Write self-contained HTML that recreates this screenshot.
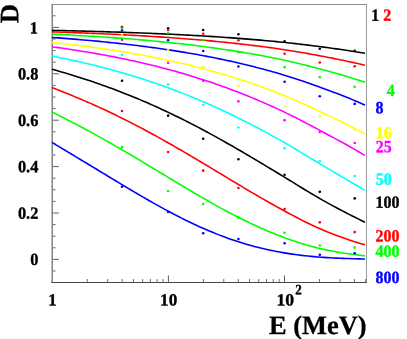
<!DOCTYPE html>
<html><head><meta charset="utf-8"><title>D vs E</title>
<style>html,body{margin:0;padding:0;background:#fff;}body{width:407px;height:339px;overflow:hidden;font-family:"Liberation Serif",serif;}svg{display:block;will-change:transform;}</style>
</head><body>
<svg width="407" height="339" viewBox="0 0 407 339">
<rect x="0" y="0" width="407" height="339" fill="#ffffff"/>
<g fill="none" stroke-width="1">
<line x1="51.5" y1="4" x2="51.5" y2="283" stroke="#c0c0c0"/>
<line x1="52.5" y1="4" x2="52.5" y2="283" stroke="#858585"/>
<line x1="51.3" y1="4.5" x2="367" y2="4.5" stroke="#8c8c8c"/>
<line x1="366.5" y1="4" x2="366.5" y2="283" stroke="#9a9a9a"/>
<line x1="51.3" y1="282.5" x2="367" y2="282.5" stroke="#484848"/>
<line x1="53" y1="271.00" x2="55.60" y2="271.00" stroke="#686868"/>
<line x1="53" y1="259.40" x2="58.90" y2="259.40" stroke="#626262"/>
<line x1="53" y1="247.80" x2="55.60" y2="247.80" stroke="#686868"/>
<line x1="53" y1="236.20" x2="55.60" y2="236.20" stroke="#686868"/>
<line x1="53" y1="224.60" x2="55.60" y2="224.60" stroke="#686868"/>
<line x1="53" y1="213.00" x2="58.90" y2="213.00" stroke="#626262"/>
<line x1="53" y1="201.40" x2="55.60" y2="201.40" stroke="#686868"/>
<line x1="53" y1="189.80" x2="55.60" y2="189.80" stroke="#686868"/>
<line x1="53" y1="178.20" x2="55.60" y2="178.20" stroke="#686868"/>
<line x1="53" y1="166.60" x2="58.90" y2="166.60" stroke="#626262"/>
<line x1="53" y1="155.00" x2="55.60" y2="155.00" stroke="#686868"/>
<line x1="53" y1="143.40" x2="55.60" y2="143.40" stroke="#686868"/>
<line x1="53" y1="131.80" x2="55.60" y2="131.80" stroke="#686868"/>
<line x1="53" y1="120.20" x2="58.90" y2="120.20" stroke="#626262"/>
<line x1="53" y1="108.60" x2="55.60" y2="108.60" stroke="#686868"/>
<line x1="53" y1="97.00" x2="55.60" y2="97.00" stroke="#686868"/>
<line x1="53" y1="85.40" x2="55.60" y2="85.40" stroke="#686868"/>
<line x1="53" y1="73.80" x2="58.90" y2="73.80" stroke="#626262"/>
<line x1="53" y1="62.20" x2="55.60" y2="62.20" stroke="#686868"/>
<line x1="53" y1="50.60" x2="55.60" y2="50.60" stroke="#686868"/>
<line x1="53" y1="39.00" x2="55.60" y2="39.00" stroke="#686868"/>
<line x1="53" y1="27.40" x2="58.90" y2="27.40" stroke="#626262"/>
<line x1="53" y1="15.80" x2="55.60" y2="15.80" stroke="#686868"/>
<line x1="87.25" y1="282" x2="87.25" y2="279.00" stroke="#707070"/>
<line x1="107.69" y1="282" x2="107.69" y2="279.00" stroke="#707070"/>
<line x1="122.20" y1="282" x2="122.20" y2="279.00" stroke="#707070"/>
<line x1="133.45" y1="282" x2="133.45" y2="279.00" stroke="#707070"/>
<line x1="142.64" y1="282" x2="142.64" y2="279.00" stroke="#707070"/>
<line x1="150.42" y1="282" x2="150.42" y2="279.00" stroke="#707070"/>
<line x1="157.15" y1="282" x2="157.15" y2="279.00" stroke="#707070"/>
<line x1="163.09" y1="282" x2="163.09" y2="279.00" stroke="#707070"/>
<line x1="168.40" y1="282" x2="168.40" y2="275.40" stroke="#626262"/>
<line x1="203.35" y1="282" x2="203.35" y2="279.00" stroke="#707070"/>
<line x1="223.79" y1="282" x2="223.79" y2="279.00" stroke="#707070"/>
<line x1="238.30" y1="282" x2="238.30" y2="279.00" stroke="#707070"/>
<line x1="249.55" y1="282" x2="249.55" y2="279.00" stroke="#707070"/>
<line x1="258.74" y1="282" x2="258.74" y2="279.00" stroke="#707070"/>
<line x1="266.52" y1="282" x2="266.52" y2="279.00" stroke="#707070"/>
<line x1="273.25" y1="282" x2="273.25" y2="279.00" stroke="#707070"/>
<line x1="279.19" y1="282" x2="279.19" y2="279.00" stroke="#707070"/>
<line x1="284.50" y1="282" x2="284.50" y2="275.40" stroke="#626262"/>
<line x1="319.45" y1="282" x2="319.45" y2="279.00" stroke="#707070"/>
<line x1="339.89" y1="282" x2="339.89" y2="279.00" stroke="#707070"/>
<line x1="354.40" y1="282" x2="354.40" y2="279.00" stroke="#707070"/>
<line x1="365.65" y1="282" x2="365.65" y2="279.00" stroke="#707070"/>
</g>
<polyline points="51.9,30.36 55.1,30.43 58.2,30.50 61.4,30.57 64.6,30.64 67.7,30.72 70.9,30.79 74.0,30.87 77.2,30.95 80.4,31.03 83.5,31.11 86.7,31.20 89.9,31.28 93.0,31.37 96.2,31.46 99.3,31.55 102.5,31.65 105.7,31.74 108.8,31.84 112.0,31.94 115.2,32.04 118.3,32.15 121.5,32.25 124.6,32.36 127.8,32.47 131.0,32.59 134.1,32.70 137.3,32.82 140.5,32.94 143.6,33.07 146.8,33.19 149.9,33.32 153.1,33.45 156.3,33.59 159.4,33.73 162.6,33.87 165.8,34.01 168.9,34.16 172.1,34.31 175.2,34.46 178.4,34.62 181.6,34.78 184.7,34.95 187.9,35.11 191.1,35.29 194.2,35.46 197.4,35.64 200.5,35.82 203.7,36.01 206.9,36.20 210.0,36.40 213.2,36.59 216.4,36.80 219.5,37.01 222.7,37.22 225.8,37.44 229.0,37.66 232.2,37.88 235.3,38.12 238.5,38.35 241.7,38.59 244.8,38.84 248.0,39.09 251.1,39.35 254.3,39.61 257.5,39.88 260.6,40.16 263.8,40.44 267.0,40.72 270.1,41.01 273.3,41.31 276.4,41.62 279.6,41.93 282.8,42.25 285.9,42.58 289.1,42.92 292.3,43.26 295.4,43.62 298.6,43.98 301.7,44.35 304.9,44.73 308.1,45.12 311.2,45.51 314.4,45.91 317.6,46.32 320.7,46.73 323.9,47.14 327.0,47.56 330.2,47.98 333.4,48.41 336.5,48.85 339.7,49.30 342.9,49.76 346.0,50.22 349.2,50.70 352.3,51.19 355.5,51.70 358.7,52.21 361.8,52.74 365.0,53.27" fill="none" stroke="#000000" stroke-width="1.58" stroke-linecap="butt" stroke-linejoin="round"/>
<circle cx="122.00" cy="27.05" r="1.3" fill="#000000"/>
<circle cx="168.10" cy="28.25" r="1.3" fill="#000000"/>
<circle cx="203.20" cy="30.05" r="1.3" fill="#000000"/>
<circle cx="238.40" cy="34.25" r="1.3" fill="#000000"/>
<circle cx="284.60" cy="41.25" r="1.3" fill="#000000"/>
<circle cx="319.80" cy="48.75" r="1.3" fill="#000000"/>
<circle cx="354.70" cy="50.80" r="1.3" fill="#000000"/>
<polyline points="51.9,31.85 55.1,31.96 58.2,32.06 61.4,32.17 64.6,32.28 67.7,32.39 70.9,32.51 74.0,32.62 77.2,32.74 80.4,32.86 83.5,32.99 86.7,33.11 89.9,33.24 93.0,33.37 96.2,33.51 99.3,33.65 102.5,33.79 105.7,33.93 108.8,34.08 112.0,34.22 115.2,34.38 118.3,34.53 121.5,34.69 124.6,34.85 127.8,35.02 131.0,35.19 134.1,35.36 137.3,35.54 140.5,35.72 143.6,35.91 146.8,36.09 149.9,36.29 153.1,36.48 156.3,36.69 159.4,36.89 162.6,37.10 165.8,37.32 168.9,37.54 172.1,37.76 175.2,37.99 178.4,38.22 181.6,38.46 184.7,38.70 187.9,38.95 191.1,39.21 194.2,39.47 197.4,39.73 200.5,40.00 203.7,40.28 206.9,40.56 210.0,40.85 213.2,41.15 216.4,41.45 219.5,41.76 222.7,42.07 225.8,42.39 229.0,42.72 232.2,43.05 235.3,43.39 238.5,43.74 241.7,44.10 244.8,44.46 248.0,44.83 251.1,45.21 254.3,45.60 257.5,45.99 260.6,46.39 263.8,46.80 267.0,47.22 270.1,47.65 273.3,48.09 276.4,48.54 279.6,49.00 282.8,49.46 285.9,49.94 289.1,50.43 292.3,50.94 295.4,51.45 298.6,51.98 301.7,52.52 304.9,53.07 308.1,53.64 311.2,54.21 314.4,54.79 317.6,55.37 320.7,55.96 323.9,56.56 327.0,57.17 330.2,57.78 333.4,58.40 336.5,59.03 339.7,59.67 342.9,60.32 346.0,60.99 349.2,61.68 352.3,62.38 355.5,63.10 358.7,63.83 361.8,64.58 365.0,65.35" fill="none" stroke="#ff0000" stroke-width="1.58" stroke-linecap="butt" stroke-linejoin="round"/>
<circle cx="122.00" cy="27.55" r="1.3" fill="#ff0000"/>
<circle cx="168.10" cy="30.05" r="1.3" fill="#ff0000"/>
<circle cx="203.20" cy="33.75" r="1.3" fill="#ff0000"/>
<circle cx="238.40" cy="40.25" r="1.3" fill="#ff0000"/>
<circle cx="284.60" cy="53.75" r="1.3" fill="#ff0000"/>
<circle cx="319.80" cy="62.55" r="1.3" fill="#ff0000"/>
<circle cx="354.70" cy="66.30" r="1.3" fill="#ff0000"/>
<polyline points="51.9,34.09 55.1,34.25 58.2,34.41 61.4,34.57 64.6,34.73 67.7,34.90 70.9,35.07 74.0,35.25 77.2,35.42 80.4,35.60 83.5,35.79 86.7,35.98 89.9,36.17 93.0,36.36 96.2,36.56 99.3,36.77 102.5,36.98 105.7,37.19 108.8,37.41 112.0,37.63 115.2,37.86 118.3,38.09 121.5,38.32 124.6,38.57 127.8,38.81 131.0,39.06 134.1,39.32 137.3,39.58 140.5,39.85 143.6,40.13 146.8,40.41 149.9,40.69 153.1,40.98 156.3,41.28 159.4,41.59 162.6,41.90 165.8,42.21 168.9,42.54 172.1,42.87 175.2,43.21 178.4,43.55 181.6,43.90 184.7,44.26 187.9,44.63 191.1,45.00 194.2,45.38 197.4,45.77 200.5,46.17 203.7,46.58 206.9,46.99 210.0,47.42 213.2,47.85 216.4,48.29 219.5,48.74 222.7,49.20 225.8,49.67 229.0,50.14 232.2,50.63 235.3,51.13 238.5,51.63 241.7,52.15 244.8,52.68 248.0,53.22 251.1,53.77 254.3,54.33 257.5,54.90 260.6,55.48 263.8,56.08 267.0,56.68 270.1,57.30 273.3,57.93 276.4,58.57 279.6,59.23 282.8,59.90 285.9,60.59 289.1,61.29 292.3,62.01 295.4,62.75 298.6,63.51 301.7,64.28 304.9,65.06 308.1,65.86 311.2,66.67 314.4,67.49 317.6,68.32 320.7,69.16 323.9,70.00 327.0,70.86 330.2,71.72 333.4,72.59 336.5,73.47 339.7,74.37 342.9,75.29 346.0,76.22 349.2,77.18 352.3,78.15 355.5,79.15 358.7,80.17 361.8,81.20 365.0,82.26" fill="none" stroke="#00ff00" stroke-width="1.58" stroke-linecap="butt" stroke-linejoin="round"/>
<circle cx="122.00" cy="28.55" r="1.3" fill="#00ff00"/>
<circle cx="168.10" cy="33.05" r="1.3" fill="#00ff00"/>
<circle cx="203.20" cy="39.95" r="1.3" fill="#00ff00"/>
<circle cx="238.40" cy="52.25" r="1.3" fill="#00ff00"/>
<circle cx="284.60" cy="67.15" r="1.3" fill="#00ff00"/>
<circle cx="319.80" cy="77.15" r="1.3" fill="#00ff00"/>
<circle cx="354.70" cy="86.70" r="1.3" fill="#00ff00"/>
<polyline points="51.9,37.44 55.1,37.67 58.2,37.90 61.4,38.14 64.6,38.39 67.7,38.64 70.9,38.89 74.0,39.15 77.2,39.41 80.4,39.68 83.5,39.95 86.7,40.23 89.9,40.52 93.0,40.81 96.2,41.10 99.3,41.41 102.5,41.71 105.7,42.03 108.8,42.35 112.0,42.68 115.2,43.01 118.3,43.35 121.5,43.70 124.6,44.06 127.8,44.42 131.0,44.79 134.1,45.17 137.3,45.56 140.5,45.95 143.6,46.35 146.8,46.76 149.9,47.18 153.1,47.61 156.3,48.04 159.4,48.49 162.6,48.94 165.8,49.41 168.9,49.88 172.1,50.36 175.2,50.85 178.4,51.36 181.6,51.87 184.7,52.39 187.9,52.92 191.1,53.47 194.2,54.02 197.4,54.58 200.5,55.16 203.7,55.75 206.9,56.35 210.0,56.96 213.2,57.58 216.4,58.22 219.5,58.86 222.7,59.52 225.8,60.19 229.0,60.88 232.2,61.58 235.3,62.29 238.5,63.01 241.7,63.75 244.8,64.50 248.0,65.27 251.1,66.05 254.3,66.84 257.5,67.65 260.6,68.48 263.8,69.32 267.0,70.17 270.1,71.04 273.3,71.93 276.4,72.84 279.6,73.76 282.8,74.70 285.9,75.66 289.1,76.64 292.3,77.64 295.4,78.67 298.6,79.71 301.7,80.78 304.9,81.86 308.1,82.97 311.2,84.08 314.4,85.21 317.6,86.35 320.7,87.49 323.9,88.64 327.0,89.80 330.2,90.96 333.4,92.14 336.5,93.34 339.7,94.55 342.9,95.78 346.0,97.03 349.2,98.31 352.3,99.61 355.5,100.94 358.7,102.29 361.8,103.66 365.0,105.05" fill="none" stroke="#0000ff" stroke-width="1.58" stroke-linecap="butt" stroke-linejoin="round"/>
<circle cx="122.00" cy="30.55" r="1.3" fill="#0000ff"/>
<circle cx="168.10" cy="40.15" r="1.3" fill="#0000ff"/>
<circle cx="203.20" cy="51.05" r="1.3" fill="#0000ff"/>
<circle cx="238.40" cy="66.45" r="1.3" fill="#0000ff"/>
<circle cx="284.60" cy="81.75" r="1.3" fill="#0000ff"/>
<circle cx="319.80" cy="96.25" r="1.3" fill="#0000ff"/>
<circle cx="354.70" cy="103.90" r="1.3" fill="#0000ff"/>
<polyline points="51.9,42.39 55.1,42.73 58.2,43.08 61.4,43.43 64.6,43.79 67.7,44.16 70.9,44.53 74.0,44.91 77.2,45.30 80.4,45.69 83.5,46.10 86.7,46.51 89.9,46.92 93.0,47.35 96.2,47.78 99.3,48.22 102.5,48.68 105.7,49.14 108.8,49.61 112.0,50.08 115.2,50.57 118.3,51.07 121.5,51.58 124.6,52.09 127.8,52.62 131.0,53.16 134.1,53.71 137.3,54.27 140.5,54.84 143.6,55.42 146.8,56.01 149.9,56.62 153.1,57.24 156.3,57.86 159.4,58.50 162.6,59.16 165.8,59.82 168.9,60.50 172.1,61.19 175.2,61.90 178.4,62.61 181.6,63.34 184.7,64.09 187.9,64.85 191.1,65.62 194.2,66.41 197.4,67.21 200.5,68.02 203.7,68.86 206.9,69.70 210.0,70.56 213.2,71.44 216.4,72.33 219.5,73.24 222.7,74.16 225.8,75.10 229.0,76.06 232.2,77.03 235.3,78.02 238.5,79.03 241.7,80.05 244.8,81.09 248.0,82.15 251.1,83.23 254.3,84.32 257.5,85.43 260.6,86.56 263.8,87.70 267.0,88.87 270.1,90.05 273.3,91.26 276.4,92.48 279.6,93.72 282.8,94.99 285.9,96.28 289.1,97.59 292.3,98.93 295.4,100.30 298.6,101.68 301.7,103.10 304.9,104.53 308.1,105.98 311.2,107.44 314.4,108.92 317.6,110.40 320.7,111.88 323.9,113.37 327.0,114.86 330.2,116.36 333.4,117.87 336.5,119.39 339.7,120.93 342.9,122.49 346.0,124.08 349.2,125.68 352.3,127.31 355.5,128.96 358.7,130.63 361.8,132.33 365.0,134.04" fill="none" stroke="#ffff00" stroke-width="1.58" stroke-linecap="butt" stroke-linejoin="round"/>
<circle cx="122.00" cy="35.25" r="1.3" fill="#ffff00"/>
<circle cx="168.10" cy="50.05" r="1.3" fill="#ffff00"/>
<circle cx="203.20" cy="66.95" r="1.3" fill="#ffff00"/>
<circle cx="238.40" cy="86.15" r="1.3" fill="#ffff00"/>
<circle cx="284.60" cy="106.55" r="1.3" fill="#ffff00"/>
<circle cx="319.80" cy="115.65" r="1.3" fill="#ffff00"/>
<circle cx="354.70" cy="129.30" r="1.3" fill="#ffff00"/>
<polyline points="51.9,46.75 55.1,47.19 58.2,47.63 61.4,48.09 64.6,48.55 67.7,49.01 70.9,49.49 74.0,49.97 77.2,50.46 80.4,50.97 83.5,51.48 86.7,52.00 89.9,52.53 93.0,53.07 96.2,53.62 99.3,54.18 102.5,54.75 105.7,55.33 108.8,55.93 112.0,56.53 115.2,57.15 118.3,57.78 121.5,58.42 124.6,59.07 127.8,59.73 131.0,60.41 134.1,61.10 137.3,61.81 140.5,62.52 143.6,63.25 146.8,64.00 149.9,64.75 153.1,65.52 156.3,66.31 159.4,67.11 162.6,67.92 165.8,68.75 168.9,69.60 172.1,70.46 175.2,71.33 178.4,72.22 181.6,73.13 184.7,74.05 187.9,74.99 191.1,75.94 194.2,76.92 197.4,77.90 200.5,78.91 203.7,79.93 206.9,80.97 210.0,82.02 213.2,83.10 216.4,84.19 219.5,85.29 222.7,86.42 225.8,87.56 229.0,88.73 232.2,89.91 235.3,91.11 238.5,92.32 241.7,93.56 244.8,94.81 248.0,96.08 251.1,97.37 254.3,98.68 257.5,100.01 260.6,101.36 263.8,102.72 267.0,104.11 270.1,105.51 273.3,106.94 276.4,108.38 279.6,109.85 282.8,111.34 285.9,112.85 289.1,114.39 292.3,115.95 295.4,117.54 298.6,119.15 301.7,120.79 304.9,122.44 308.1,124.11 311.2,125.79 314.4,127.48 317.6,129.17 320.7,130.86 323.9,132.55 327.0,134.24 330.2,135.93 333.4,137.62 336.5,139.33 339.7,141.05 342.9,142.79 346.0,144.54 349.2,146.31 352.3,148.11 355.5,149.92 358.7,151.74 361.8,153.59 365.0,155.44" fill="none" stroke="#ff00ff" stroke-width="1.58" stroke-linecap="butt" stroke-linejoin="round"/>
<circle cx="122.00" cy="40.05" r="1.3" fill="#ff00ff"/>
<circle cx="168.10" cy="62.75" r="1.3" fill="#ff00ff"/>
<circle cx="203.20" cy="80.75" r="1.3" fill="#ff00ff"/>
<circle cx="238.40" cy="101.35" r="1.3" fill="#ff00ff"/>
<circle cx="284.60" cy="120.15" r="1.3" fill="#ff00ff"/>
<circle cx="319.80" cy="132.05" r="1.3" fill="#ff00ff"/>
<circle cx="354.70" cy="143.00" r="1.3" fill="#ff00ff"/>
<polyline points="51.9,56.00 55.1,56.63 58.2,57.27 61.4,57.92 64.6,58.59 67.7,59.26 70.9,59.94 74.0,60.63 77.2,61.34 80.4,62.06 83.5,62.79 86.7,63.53 89.9,64.29 93.0,65.06 96.2,65.84 99.3,66.63 102.5,67.45 105.7,68.27 108.8,69.11 112.0,69.96 115.2,70.83 118.3,71.72 121.5,72.62 124.6,73.53 127.8,74.46 131.0,75.41 134.1,76.37 137.3,77.35 140.5,78.35 143.6,79.36 146.8,80.39 149.9,81.44 153.1,82.50 156.3,83.58 159.4,84.68 162.6,85.80 165.8,86.93 168.9,88.09 172.1,89.26 175.2,90.44 178.4,91.65 181.6,92.88 184.7,94.12 187.9,95.38 191.1,96.66 194.2,97.96 197.4,99.28 200.5,100.62 203.7,101.97 206.9,103.35 210.0,104.74 213.2,106.15 216.4,107.58 219.5,109.03 222.7,110.49 225.8,111.98 229.0,113.48 232.2,115.00 235.3,116.54 238.5,118.10 241.7,119.67 244.8,121.27 248.0,122.88 251.1,124.50 254.3,126.15 257.5,127.81 260.6,129.48 263.8,131.17 267.0,132.88 270.1,134.61 273.3,136.35 276.4,138.11 279.6,139.88 282.8,141.67 285.9,143.49 289.1,145.32 292.3,147.17 295.4,149.04 298.6,150.93 301.7,152.83 304.9,154.75 308.1,156.67 311.2,158.59 314.4,160.51 317.6,162.42 320.7,164.31 323.9,166.19 327.0,168.06 330.2,169.92 333.4,171.77 336.5,173.61 339.7,175.46 342.9,177.32 346.0,179.17 349.2,181.04 352.3,182.91 355.5,184.78 358.7,186.65 361.8,188.52 365.0,190.39" fill="none" stroke="#00ffff" stroke-width="1.58" stroke-linecap="butt" stroke-linejoin="round"/>
<circle cx="122.00" cy="54.75" r="1.3" fill="#00ffff"/>
<circle cx="168.10" cy="84.55" r="1.3" fill="#00ffff"/>
<circle cx="203.20" cy="105.05" r="1.3" fill="#00ffff"/>
<circle cx="238.40" cy="127.55" r="1.3" fill="#00ffff"/>
<circle cx="284.60" cy="148.35" r="1.3" fill="#00ffff"/>
<circle cx="319.80" cy="161.25" r="1.3" fill="#00ffff"/>
<circle cx="354.70" cy="176.00" r="1.3" fill="#00ffff"/>
<polyline points="51.9,69.22 55.1,70.10 58.2,71.01 61.4,71.92 64.6,72.85 67.7,73.79 70.9,74.75 74.0,75.72 77.2,76.70 80.4,77.70 83.5,78.72 86.7,79.75 89.9,80.79 93.0,81.86 96.2,82.93 99.3,84.03 102.5,85.14 105.7,86.27 108.8,87.42 112.0,88.58 115.2,89.77 118.3,90.97 121.5,92.18 124.6,93.42 127.8,94.67 131.0,95.95 134.1,97.24 137.3,98.54 140.5,99.87 143.6,101.22 146.8,102.58 149.9,103.97 153.1,105.37 156.3,106.79 159.4,108.23 162.6,109.68 165.8,111.16 168.9,112.65 172.1,114.17 175.2,115.70 178.4,117.24 181.6,118.81 184.7,120.39 187.9,121.99 191.1,123.61 194.2,125.24 197.4,126.89 200.5,128.56 203.7,130.24 206.9,131.94 210.0,133.66 213.2,135.39 216.4,137.13 219.5,138.89 222.7,140.66 225.8,142.44 229.0,144.24 232.2,146.05 235.3,147.87 238.5,149.70 241.7,151.54 244.8,153.39 248.0,155.25 251.1,157.12 254.3,159.00 257.5,160.88 260.6,162.77 263.8,164.66 267.0,166.56 270.1,168.47 273.3,170.38 276.4,172.29 279.6,174.21 282.8,176.13 285.9,178.06 289.1,179.99 292.3,181.93 295.4,183.87 298.6,185.82 301.7,187.76 304.9,189.70 308.1,191.62 311.2,193.53 314.4,195.41 317.6,197.27 320.7,199.09 323.9,200.88 327.0,202.64 330.2,204.38 333.4,206.09 336.5,207.78 339.7,209.45 342.9,211.10 346.0,212.75 349.2,214.37 352.3,215.99 355.5,217.58 358.7,219.16 361.8,220.71 365.0,222.24" fill="none" stroke="#000000" stroke-width="1.58" stroke-linecap="butt" stroke-linejoin="round"/>
<circle cx="122.00" cy="80.75" r="1.3" fill="#000000"/>
<circle cx="168.10" cy="115.65" r="1.3" fill="#000000"/>
<circle cx="203.20" cy="138.75" r="1.3" fill="#000000"/>
<circle cx="238.40" cy="159.25" r="1.3" fill="#000000"/>
<circle cx="284.60" cy="174.75" r="1.3" fill="#000000"/>
<circle cx="319.80" cy="191.85" r="1.3" fill="#000000"/>
<circle cx="354.70" cy="198.40" r="1.3" fill="#000000"/>
<polyline points="51.9,87.56 55.1,88.77 58.2,90.00 61.4,91.24 64.6,92.50 67.7,93.77 70.9,95.06 74.0,96.36 77.2,97.68 80.4,99.01 83.5,100.36 86.7,101.73 89.9,103.12 93.0,104.52 96.2,105.94 99.3,107.37 102.5,108.83 105.7,110.30 108.8,111.79 112.0,113.30 115.2,114.82 118.3,116.36 121.5,117.92 124.6,119.50 127.8,121.09 131.0,122.70 134.1,124.33 137.3,125.97 140.5,127.63 143.6,129.31 146.8,131.00 149.9,132.71 153.1,134.43 156.3,136.17 159.4,137.92 162.6,139.68 165.8,141.46 168.9,143.25 172.1,145.05 175.2,146.87 178.4,148.69 181.6,150.53 184.7,152.37 187.9,154.23 191.1,156.09 194.2,157.97 197.4,159.84 200.5,161.73 203.7,163.62 206.9,165.52 210.0,167.42 213.2,169.32 216.4,171.23 219.5,173.14 222.7,175.04 225.8,176.95 229.0,178.86 232.2,180.76 235.3,182.66 238.5,184.55 241.7,186.44 244.8,188.33 248.0,190.20 251.1,192.07 254.3,193.93 257.5,195.77 260.6,197.61 263.8,199.43 267.0,201.23 270.1,203.03 273.3,204.80 276.4,206.57 279.6,208.31 282.8,210.05 285.9,211.76 289.1,213.46 292.3,215.15 295.4,216.81 298.6,218.46 301.7,220.08 304.9,221.67 308.1,223.23 311.2,224.76 314.4,226.24 317.6,227.69 320.7,229.08 323.9,230.43 327.0,231.74 330.2,233.00 333.4,234.23 336.5,235.43 339.7,236.59 342.9,237.72 346.0,238.83 349.2,239.90 352.3,240.95 355.5,241.96 358.7,242.94 361.8,243.89 365.0,244.81" fill="none" stroke="#ff0000" stroke-width="1.58" stroke-linecap="butt" stroke-linejoin="round"/>
<circle cx="122.00" cy="110.95" r="1.3" fill="#ff0000"/>
<circle cx="168.10" cy="152.05" r="1.3" fill="#ff0000"/>
<circle cx="203.20" cy="170.65" r="1.3" fill="#ff0000"/>
<circle cx="238.40" cy="187.95" r="1.3" fill="#ff0000"/>
<circle cx="284.60" cy="208.95" r="1.3" fill="#ff0000"/>
<circle cx="319.80" cy="222.35" r="1.3" fill="#ff0000"/>
<circle cx="354.70" cy="232.10" r="1.3" fill="#ff0000"/>
<polyline points="51.9,111.98 55.1,113.54 58.2,115.13 61.4,116.72 64.6,118.33 67.7,119.95 70.9,121.58 74.0,123.23 77.2,124.89 80.4,126.56 83.5,128.25 86.7,129.95 89.9,131.66 93.0,133.39 96.2,135.13 99.3,136.88 102.5,138.65 105.7,140.42 108.8,142.21 112.0,144.02 115.2,145.83 118.3,147.65 121.5,149.49 124.6,151.33 127.8,153.19 131.0,155.05 134.1,156.92 137.3,158.80 140.5,160.68 143.6,162.57 146.8,164.47 149.9,166.37 153.1,168.27 156.3,170.18 159.4,172.08 162.6,173.99 165.8,175.90 168.9,177.81 172.1,179.71 175.2,181.62 178.4,183.51 181.6,185.41 184.7,187.29 187.9,189.17 191.1,191.05 194.2,192.91 197.4,194.76 200.5,196.60 203.7,198.43 206.9,200.24 210.0,202.04 213.2,203.83 216.4,205.59 219.5,207.34 222.7,209.07 225.8,210.78 229.0,212.47 232.2,214.13 235.3,215.77 238.5,217.39 241.7,218.98 244.8,220.55 248.0,222.08 251.1,223.59 254.3,225.07 257.5,226.53 260.6,227.95 263.8,229.34 267.0,230.69 270.1,232.02 273.3,233.31 276.4,234.58 279.6,235.81 282.8,237.00 285.9,238.17 289.1,239.30 292.3,240.40 295.4,241.47 298.6,242.51 301.7,243.51 304.9,244.47 308.1,245.40 311.2,246.28 314.4,247.12 317.6,247.92 320.7,248.67 323.9,249.38 327.0,250.06 330.2,250.70 333.4,251.30 336.5,251.88 339.7,252.42 342.9,252.94 346.0,253.43 349.2,253.89 352.3,254.33 355.5,254.75 358.7,255.14 361.8,255.50 365.0,255.85" fill="none" stroke="#00ff00" stroke-width="1.58" stroke-linecap="butt" stroke-linejoin="round"/>
<circle cx="122.00" cy="147.15" r="1.3" fill="#00ff00"/>
<circle cx="168.10" cy="190.95" r="1.3" fill="#00ff00"/>
<circle cx="203.20" cy="204.05" r="1.3" fill="#00ff00"/>
<circle cx="238.40" cy="217.65" r="1.3" fill="#00ff00"/>
<circle cx="284.60" cy="232.75" r="1.3" fill="#00ff00"/>
<circle cx="319.80" cy="245.55" r="1.3" fill="#00ff00"/>
<circle cx="354.70" cy="247.60" r="1.3" fill="#00ff00"/>
<polyline points="51.9,142.44 55.1,144.31 58.2,146.19 61.4,148.08 64.6,149.97 67.7,151.86 70.9,153.75 74.0,155.65 77.2,157.56 80.4,159.47 83.5,161.38 86.7,163.29 89.9,165.20 93.0,167.12 96.2,169.04 99.3,170.96 102.5,172.88 105.7,174.79 108.8,176.71 112.0,178.62 115.2,180.53 118.3,182.44 121.5,184.34 124.6,186.23 127.8,188.12 131.0,190.00 134.1,191.87 137.3,193.73 140.5,195.58 143.6,197.42 146.8,199.24 149.9,201.05 153.1,202.84 156.3,204.62 159.4,206.38 162.6,208.12 165.8,209.84 168.9,211.54 172.1,213.22 175.2,214.87 178.4,216.50 181.6,218.11 184.7,219.69 187.9,221.24 191.1,222.77 194.2,224.27 197.4,225.73 200.5,227.17 203.7,228.58 206.9,229.95 210.0,231.29 213.2,232.60 216.4,233.88 219.5,235.12 222.7,236.33 225.8,237.50 229.0,238.64 232.2,239.74 235.3,240.81 238.5,241.84 241.7,242.83 244.8,243.79 248.0,244.72 251.1,245.61 254.3,246.46 257.5,247.28 260.6,248.06 263.8,248.81 267.0,249.52 270.1,250.20 273.3,250.85 276.4,251.47 279.6,252.05 282.8,252.61 285.9,253.14 289.1,253.63 292.3,254.11 295.4,254.55 298.6,254.97 301.7,255.36 304.9,255.72 308.1,256.06 311.2,256.37 314.4,256.66 317.6,256.92 320.7,257.17 323.9,257.39 327.0,257.59 330.2,257.77 333.4,257.94 336.5,258.09 339.7,258.23 342.9,258.36 346.0,258.48 349.2,258.58 352.3,258.68 355.5,258.77 358.7,258.85 361.8,258.92 365.0,258.98" fill="none" stroke="#0000ff" stroke-width="1.58" stroke-linecap="butt" stroke-linejoin="round"/>
<circle cx="122.00" cy="186.75" r="1.3" fill="#0000ff"/>
<circle cx="168.10" cy="211.95" r="1.3" fill="#0000ff"/>
<circle cx="203.20" cy="233.25" r="1.3" fill="#0000ff"/>
<circle cx="238.40" cy="239.05" r="1.3" fill="#0000ff"/>
<circle cx="284.60" cy="243.25" r="1.3" fill="#0000ff"/>
<circle cx="319.80" cy="254.85" r="1.3" fill="#0000ff"/>
<circle cx="354.70" cy="253.30" r="1.3" fill="#0000ff"/>
<g font-family="'Liberation Serif', serif" font-weight="bold" fill="#000" text-rendering="geometricPrecision">
<text transform="translate(38.0,33.5) rotate(0.05) scale(0.95,1)" font-size="17.2" text-anchor="end" stroke="#000" stroke-width="0.35">1</text>
<text transform="translate(38.3,79.5) rotate(0.05) scale(0.95,1)" font-size="17.2" text-anchor="end" stroke="#000" stroke-width="0.35">0.8</text>
<text transform="translate(38.3,125.9) rotate(0.05) scale(0.95,1)" font-size="17.2" text-anchor="end" stroke="#000" stroke-width="0.35">0.6</text>
<text transform="translate(38.3,172.3) rotate(0.05) scale(0.95,1)" font-size="17.2" text-anchor="end" stroke="#000" stroke-width="0.35">0.4</text>
<text transform="translate(38.3,218.7) rotate(0.05) scale(0.95,1)" font-size="17.2" text-anchor="end" stroke="#000" stroke-width="0.35">0.2</text>
<text transform="translate(38.3,265.1) rotate(0.05) scale(0.95,1)" font-size="17.2" text-anchor="end" stroke="#000" stroke-width="0.35">0</text>
<text transform="translate(52.45,305.45) rotate(0.05) scale(0.98,1)" font-size="17.2" text-anchor="middle" stroke="#000" stroke-width="0.35">1</text>
<text transform="translate(168.7,305.45) rotate(0.05)" font-size="17.2" text-anchor="middle" stroke="#000" stroke-width="0.35">10</text>
<text transform="translate(285.35,305.4) rotate(0.05) scale(1.035,1)" font-size="17.2" text-anchor="middle" stroke="#000" stroke-width="0.35">10</text>
<text transform="translate(295.3,294.2) rotate(0.05) scale(0.92,1)" font-size="14.2" text-anchor="start" stroke="#000" stroke-width="0.35">2</text>
<text transform="translate(366.6,334.0) rotate(0.05) scale(0.996,1)" font-size="26.5" text-anchor="end" stroke="#000" stroke-width="0.3">E (MeV)</text>
<text transform="translate(18.2,23.2) rotate(-89.95)" font-size="26.6" text-anchor="start" stroke="#000" stroke-width="0.3">D</text>
<text transform="translate(371.25,20.7) rotate(0.05) scale(0.93,1)" font-size="17.2" text-anchor="start" fill="#000000" stroke="#000000" stroke-width="0.35">1</text>
<text transform="translate(383.35,20.7) rotate(0.05) scale(0.93,1)" font-size="17.2" text-anchor="start" fill="#ff0000" stroke="#ff0000" stroke-width="0.35">2</text>
<text transform="translate(386.75,95.9) rotate(0.05) scale(0.93,1)" font-size="17.2" text-anchor="start" fill="#00ff00" stroke="#00ff00" stroke-width="0.35">4</text>
<text transform="translate(375.55,113.2) rotate(0.05) scale(0.93,1)" font-size="17.2" text-anchor="start" fill="#0000ff" stroke="#0000ff" stroke-width="0.35">8</text>
<text transform="translate(375.85,138.4) rotate(0.05) scale(0.93,1)" font-size="17.2" text-anchor="start" fill="#ffff00" stroke="#ffff00" stroke-width="0.35">16</text>
<text transform="translate(375.85,152.20000000000002) rotate(0.05) scale(0.93,1)" font-size="17.2" text-anchor="start" fill="#ff00ff" stroke="#ff00ff" stroke-width="0.35">25</text>
<text transform="translate(375.85,184.8) rotate(0.05) scale(0.93,1)" font-size="17.2" text-anchor="start" fill="#00ffff" stroke="#00ffff" stroke-width="0.35">50</text>
<text transform="translate(375.55,207.70000000000002) rotate(0.05) scale(0.93,1)" font-size="17.2" text-anchor="start" fill="#000000" stroke="#000000" stroke-width="0.35">100</text>
<text transform="translate(375.55,241.6) rotate(0.05) scale(0.93,1)" font-size="17.2" text-anchor="start" fill="#ff0000" stroke="#ff0000" stroke-width="0.35">200</text>
<text transform="translate(375.55,256.7) rotate(0.05) scale(0.93,1)" font-size="17.2" text-anchor="start" fill="#00ff00" stroke="#00ff00" stroke-width="0.35">400</text>
<text transform="translate(375.55,282.9) rotate(0.05) scale(0.93,1)" font-size="17.2" text-anchor="start" fill="#0000ff" stroke="#0000ff" stroke-width="0.35">800</text>
</g>
</svg>
</body></html>
